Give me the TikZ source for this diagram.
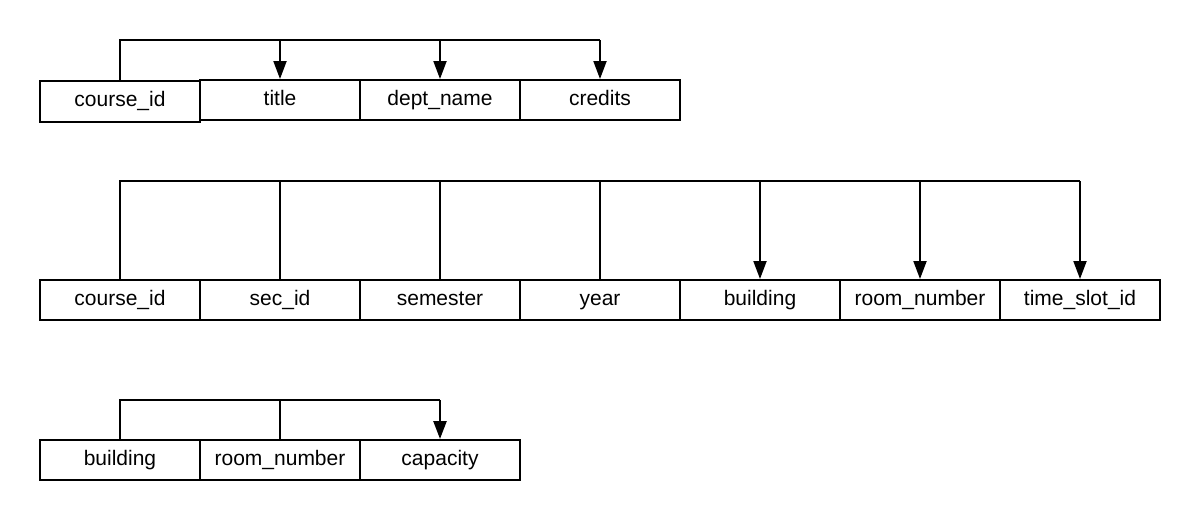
\documentclass[tikz,border=0pt]{standalone}
\usepackage{fontspec}
\setmainfont{Liberation Sans}
\usetikzlibrary{arrows.meta}
\begin{document}
\begin{tikzpicture}[x=1pt,y=-1pt,
  attr/.style={draw,line width=2pt,rectangle,minimum width=160pt,minimum height=40pt,inner sep=0pt,text height=15pt,text depth=5pt,font=\fontsize{21}{24}\selectfont},
  link/.style={line width=2pt},
  arr/.style={line width=2pt,-{Triangle[width=13pt,length=18pt]}}]
\useasboundingbox (0,0) rectangle (1200,520);
% Row 1: course
\node[attr,minimum height=41pt] (a1) at (120,101.5) {course\_id};
\node[attr] (a2) at (280,100) {title};
\node[attr] (a3) at (440,100) {dept\_name};
\node[attr] (a4) at (600,100) {credits};
\coordinate (h1) at (0,40);
\draw[link] (a1.north) |- (a4.north |- h1);
\draw[arr] (a2.north |- h1) -- (a2.north);
\draw[arr] (a3.north |- h1) -- (a3.north);
\draw[arr] (a4.north |- h1) -- (a4.north);
% Row 2: section
\node[attr] (b1) at (120,300) {course\_id};
\node[attr] (b2) at (280,300) {sec\_id};
\node[attr] (b3) at (440,300) {semester};
\node[attr] (b4) at (600,300) {year};
\node[attr] (b5) at (760,300) {building};
\node[attr] (b6) at (920,300) {room\_number};
\node[attr] (b7) at (1080,300) {time\_slot\_id};
\coordinate (h2) at (0,181);
\draw[link] (b1.north) |- (b7.north |- h2);
\draw[link] (b2.north) -- (b2.north |- h2);
\draw[link] (b3.north) -- (b3.north |- h2);
\draw[link] (b4.north) -- (b4.north |- h2);
\draw[arr] (b5.north |- h2) -- (b5.north);
\draw[arr] (b6.north |- h2) -- (b6.north);
\draw[arr] (b7.north |- h2) -- (b7.north);
% Row 3: classroom
\node[attr] (c1) at (120,460) {building};
\node[attr] (c2) at (280,460) {room\_number};
\node[attr] (c3) at (440,460) {capacity};
\coordinate (h3) at (0,400);
\draw[link] (c1.north) |- (c3.north |- h3);
\draw[link] (c2.north) -- (c2.north |- h3);
\draw[arr,line width=2.5pt] (c3.north |- h3) -- (c3.north);
\end{tikzpicture}
\end{document}
